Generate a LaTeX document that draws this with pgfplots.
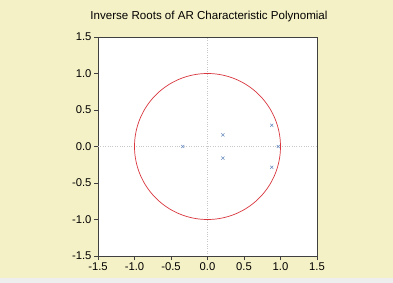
\documentclass[border=0pt]{standalone}
\usepackage{pgfplots}
\pgfplotsset{compat=1.18}
\usepackage{fontspec}
\setmainfont{Liberation Sans}
\definecolor{bgy}{HTML}{F5F1C6}
\definecolor{strip}{HTML}{EEEEEE}
\definecolor{mk}{HTML}{6A8CC0}
\definecolor{circ}{HTML}{D9363E}
\definecolor{dotc}{HTML}{C8C8C8}
\begin{document}
\begin{tikzpicture}[x=1bp,y=1bp]
\fill[bgy] (0,0) rectangle (393,283);
\fill[strip] (0,0) rectangle (393,5);
\node[font=\fontsize{11.6}{13}\selectfont] at (209,266) {Inverse Roots of AR Characteristic Polynomial};
\begin{axis}[at={(98bp,27bp)}, anchor=south west, scale only axis,
  width=219bp, height=219bp,
  xmin=-1.5, xmax=1.5, ymin=-1.5, ymax=1.5,
  xtick={-1.5,-1.0,-0.5,0,0.5,1.0,1.5},
  ytick={-1.5,-1.0,-0.5,0,0.5,1.0,1.5},
  tick align=outside, xtick pos=bottom, ytick pos=left,
  major tick length=4bp,
  axis line style={black!75}, tick style={black!75},
  axis background/.style={fill=white},
  ticklabel style={font=\fontsize{11.3}{13}\selectfont},
  xticklabel style={yshift=1bp},
  yticklabel style={xshift=1bp},
  /pgf/number format/assume math mode=true,
  /pgf/number format/.cd, fixed, fixed zerofill, precision=1,
]
\addplot[dotc, dotted, forget plot] coordinates {(-1.5,0) (1.5,0)};
\addplot[dotc, dotted, forget plot] coordinates {(0,-1.5) (0,1.5)};
\addplot[circ, line width=0.7bp, domain=0:360, samples=181, smooth] ({cos(x)},{sin(x)});
\addplot[only marks, mark=x, mark size=2.2bp, mk, mark options={line width=0.5bp}] coordinates {
(-0.34,0) (0.21,0.16) (0.21,-0.16) (0.88,0.29) (0.88,-0.285) (0.97,0)
};
\end{axis}
\end{tikzpicture}
\end{document}
